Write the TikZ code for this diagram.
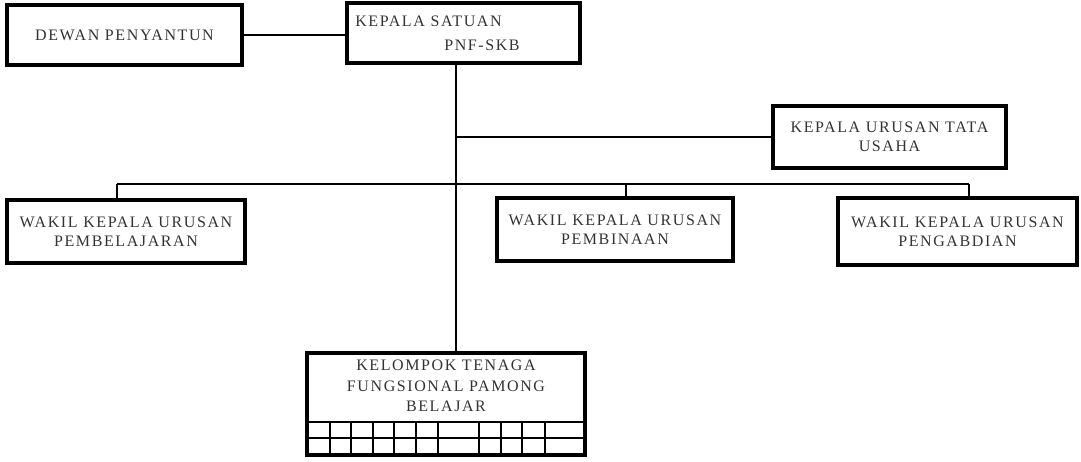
\documentclass[tikz,border=0pt]{standalone}
\usepackage{fontspec}
\setmainfont{Liberation Serif}[LetterSpace=10]
\begin{document}
\begin{tikzpicture}[x=0.75pt,y=-0.75pt,
  box/.style={draw=black,line width=2.4pt,inner sep=0pt,align=center,
    font=\fontsize{12}{14}\selectfont,text=black!80},
  conn/.style={draw=black,line width=2.2pt},
  lbl/.style={inner sep=0pt,font=\fontsize{12}{14}\selectfont,text=black!80},
  grid/.style={draw=black,line width=1.2pt}]
\useasboundingbox (0,0) rectangle (1081,461);
% boxes
\node[box,minimum width=176.25pt,minimum height=45pt] (dewan) at (124.5,35) {DEWAN PENYANTUN};
\node[box,minimum width=174.75pt,minimum height=45pt] (kepala) at (463.5,33) {};
\node[lbl,anchor=west] (kepala1) at (355,21) {KEPALA SATUAN};
\node[lbl,anchor=west] (kepala2) at (444,45) {PNF-SKB};
\node[box,minimum width=174.75pt,minimum height=46.5pt] (tu) at (889.5,137) {KEPALA URUSAN TATA\\USAHA};
\node[box,minimum width=178.5pt,minimum height=47.25pt] (w1) at (126,231.5) {WAKIL KEPALA URUSAN\\PEMBELAJARAN};
\node[box,minimum width=177pt,minimum height=47.25pt] (w2) at (615,229.5) {WAKIL KEPALA URUSAN\\PEMBINAAN};
\node[box,minimum width=179.25pt,minimum height=50.25pt] (w3) at (957.5,231.5) {WAKIL KEPALA URUSAN\\PENGABDIAN};
\node[box,minimum width=208.5pt,minimum height=76.5pt] (kel) at (446,404) {};
\node[lbl,align=center,font=\fontsize{12}{15.5}\selectfont] (keltext) at (446,386) {KELOMPOK TENAGA\\FUNGSIONAL PAMONG\\BELAJAR};
% grid inside the kelompok box
\draw[conn] (kel.west |- 0,422) -- (kel.east |- 0,422);
\draw[grid] (kel.west |- 0,438) -- (kel.east |- 0,438);
\foreach \gx in {330,351,373,394,416,438,479,501,522,545}
  \draw[grid] (\gx,422) -- (\gx,455);
% connectors
\coordinate (t1) at (456,63);
\coordinate (t2) at (456,353);
\coordinate (b1) at (117,184);
\coordinate (b2) at (626,184);
\coordinate (b3) at (969,184);
\draw[conn] (dewan.east) -- (dewan.east -| kepala.west);
\draw[conn] (t1 |- kepala.south) -- (t2 |- kel.north);
\draw[conn] (tu.west) -- (tu.west -| t1);
\draw[conn] (b1) -- (b3);
\draw[conn] (b1) -- (b1 |- w1.north);
\draw[conn] (b2) -- (b2 |- w2.north);
\draw[conn] (b3) -- (b3 |- w3.north);
\end{tikzpicture}
\end{document}
